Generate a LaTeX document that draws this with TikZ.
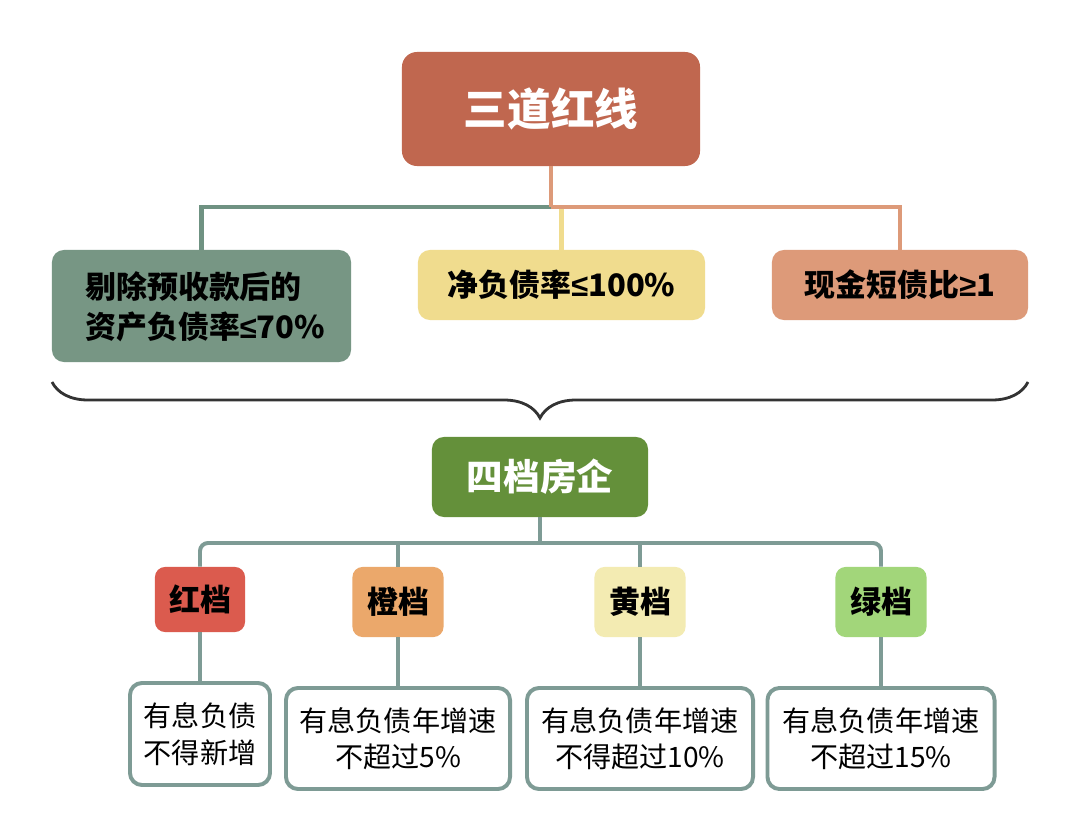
\documentclass[tikz,border=0pt]{standalone}
\usepackage{fontspec}
\newfontfamily\cjk{Noto Sans CJK SC}
\newfontfamily\symfont{Liberation Sans}
\newcommand{\lesym}{{\symfont\bfseries ≤}}
\newcommand{\gesym}{{\symfont\bfseries ≥}}
\usepackage{xcolor}
\usetikzlibrary{positioning, calc, decorations.pathreplacing}
\definecolor{rustred}{HTML}{C0674F}
\definecolor{sage}{HTML}{779684}
\definecolor{sageline}{HTML}{6F9282}
\definecolor{sand}{HTML}{F0DC8E}
\definecolor{salmon}{HTML}{DD9A79}
\definecolor{leaf}{HTML}{64903A}
\definecolor{tierred}{HTML}{DB5B4E}
\definecolor{tierorange}{HTML}{EBA86B}
\definecolor{tieryellow}{HTML}{F3EBB2}
\definecolor{tiergreen}{HTML}{A2D67A}
\definecolor{grayline}{HTML}{7E9B95}
\tikzset{
    every node/.style={font=\cjk}, % tutti i testi in Noto Sans CJK
    headbox/.style={draw=none, rounded corners=0.375cm, inner sep=0pt, align=center},
    rulebox/.style={draw=none, rounded corners=0.3cm, inner sep=0pt, align=center,
        font=\cjk\bfseries\fontsize{22}{28}\selectfont},
    tierbox/.style={draw=none, rounded corners=0.25cm, inner sep=0pt,
        minimum height=1.75cm, minimum width=2.275cm,
        font=\cjk\bfseries\fontsize{22}{26}\selectfont},
    notebox/.style={draw=grayline, line width=2.8pt, fill=white, rounded corners=0.3cm,
        inner sep=0pt, minimum height=2.525cm, align=center,
        font=\cjk\fontsize{20}{26}\selectfont},
    branch/.style={line width=3.5pt},
    twig/.style={line width=2.8pt, draw=grayline, rounded corners=0.2cm},
}

\begin{document}
\begin{tikzpicture}[x=0.025cm, y=-0.025cm]
    \useasboundingbox[fill=white] (0,0) rectangle (1080,840);
    % Nodi
    \node[headbox, fill=rustred, text=white, minimum width=7.45cm, minimum height=2.85cm,
        font=\cjk\bfseries\fontsize{31}{36}\selectfont] (lines) at (551,109) {三道红线};
    \node[rulebox, fill=sage, minimum width=7.475cm, minimum height=2.8cm] (debt) at (201.5,306) {};
    \node[align=left, anchor=west, inner sep=0pt, font=\cjk\bfseries\fontsize{22}{28.5}\selectfont]
        (debttext) at (85,307) {剔除预收款后的\\资产负债率\lesym70\%};
    \node[rulebox, fill=sand, minimum width=7.175cm, minimum height=1.75cm] (gearing) at (561.5,285)
        {净负债率\lesym100\%};
    \node[rulebox, fill=salmon, minimum width=6.4cm, minimum height=1.75cm] (cash) at (900,285)
        {现金短债比\gesym1};
    \node[headbox, rounded corners=0.3cm, fill=leaf, text=white, minimum width=5.4cm, minimum height=2cm,
        font=\cjk\bfseries\fontsize{26}{30}\selectfont] (tiers) at (540,477) {四档房企};
    \node[tierbox, fill=tierred, minimum width=2.25cm, minimum height=1.625cm] (red) at (200,599.5) {红档};
    \node[tierbox, fill=tierorange] (orange) at (398,602) {橙档};
    \node[tierbox, fill=tieryellow] (yellow) at (640,602) {黄档};
    \node[tierbox, fill=tiergreen] (green) at (881,602) {绿档};
    \node[notebox, minimum width=3.5cm, minimum height=2.55cm] (nored) at (200,734) {有息负债\\不得新增};
    \node[notebox, minimum width=5.6cm] (noorange) at (398,738.5) {有息负债年增速\\不超过5\%};
    \node[notebox, minimum width=5.65cm] (noyellow) at (640,738.5) {有息负债年增速\\不得超过10\%};
    \node[notebox, minimum width=5.675cm] (nogreen) at (881,738.5) {有息负债年增速\\不超过15\%};
    \coordinate (split) at (551,207);
    \coordinate (fork) at (540,543);
    \coordinate (braceL) at (52,382);
    \coordinate (braceR) at (1028,382);

    % Collegamenti
    \draw[branch, sageline] (split) -| (debt.north);
    \draw[branch, salmon] (split) -| (cash.north);
    \draw[branch, sand] (gearing.north |- split) ++(0,2) -- (gearing.north);
    \draw[branch, salmon] (lines.south) -- (split);
    \draw[decorate, decoration={brace, mirror, amplitude=0.9cm}, line width=2pt, black!80]
        (braceL) -- (braceR);
    \draw[twig] (tiers.south) -- (fork);
    \draw[twig] (fork) -| (red.north);
    \draw[twig] (fork) -| (green.north);
    \draw[twig] (orange.north |- fork) -- (orange.north);
    \draw[twig] (yellow.north |- fork) -- (yellow.north);
    \foreach \t/\n in {red/nored, orange/noorange, yellow/noyellow, green/nogreen}
        \draw[twig] (\t.south) -- (\n.north);
\end{tikzpicture}
\end{document}
